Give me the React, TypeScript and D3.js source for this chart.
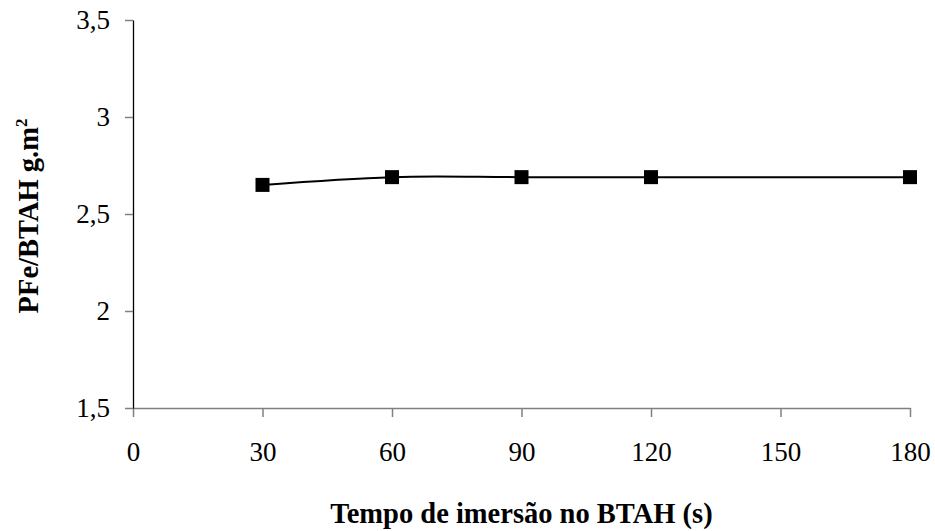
import React, { useEffect, useRef } from 'react'
import * as d3 from 'd3'

const tempos = [30, 60, 90, 120, 180]
const valores = [2.65, 2.69, 2.69, 2.69, 2.69]
const xTicks = [0, 30, 60, 90, 120, 150, 180]
const yTicks = [1.5, 2, 2.5, 3, 3.5]

const App: React.FC = () => {
  const svgRef = useRef<SVGSVGElement>(null)

  useEffect(() => {
    if (!svgRef.current) return
    const width = 935
    const height = 531
    const margin = { top: 20, right: 25, bottom: 123, left: 133 }
    const innerWidth = width - margin.left - margin.right
    const innerHeight = height - margin.top - margin.bottom

    const xScale = d3.scaleLinear().domain([0, 180]).range([0, innerWidth])
    const yScale = d3.scaleLinear().domain([1.5, 3.5]).range([innerHeight, 0])

    const svg = d3.select(svgRef.current)
    svg.selectAll('*').remove()
    svg.attr('width', width).attr('height', height)

    const g = svg.append('g').attr('transform', `translate(${margin.left},${margin.top})`)
    const font = '"Liberation Serif", "Times New Roman", serif'

    // X axis
    const xAxis = g
      .append('g')
      .attr('transform', `translate(0,${innerHeight})`)
      .call(
        d3
          .axisBottom(xScale)
          .tickValues(xTicks)
          .tickSize(9)
          .tickSizeOuter(0)
          .tickPadding(25)
          .tickFormat((d) => String(d)),
      )
    xAxis.selectAll('.domain').attr('stroke', '#808080').attr('stroke-width', 1.5)

    // Y axis
    const yAxis = g.append('g').call(
      d3
        .axisLeft(yScale)
        .tickValues(yTicks)
        .tickSize(8)
        .tickSizeOuter(0)
        .tickPadding(15)
        .tickFormat((d) => String(d).replace('.', ',')),
    )
    yAxis.selectAll('.domain').attr('stroke', '#000').attr('stroke-width', 1.3)

    svg.selectAll('.tick line').attr('stroke', '#808080').attr('stroke-width', 1.5)
    svg
      .selectAll('.tick text')
      .attr('fill', '#000')
      .style('font-family', font)
      .style('font-size', '27px')

    // smoothed line
    const pts = tempos.map((t, i) => [t, valores[i]] as [number, number])
    const line = d3
      .line<[number, number]>()
      .x((d) => xScale(d[0]))
      .y((d) => yScale(d[1]))
      .curve(d3.curveCatmullRom.alpha(0.5))

    g.append('path')
      .attr('d', line(pts))
      .attr('fill', 'none')
      .attr('stroke', '#000')
      .attr('stroke-width', 2)

    // markers
    const s = 14
    g.selectAll('rect.marker')
      .data(pts)
      .enter()
      .append('rect')
      .attr('class', 'marker')
      .attr('x', (d) => xScale(d[0]) - s / 2)
      .attr('y', (d) => yScale(d[1]) - s / 2)
      .attr('width', s)
      .attr('height', s)
      .attr('fill', '#000')

    // axis titles
    svg
      .append('text')
      .attr('x', margin.left + innerWidth / 2)
      .attr('y', 523)
      .attr('text-anchor', 'middle')
      .style('font-family', font)
      .style('font-size', '28.5px')
      .style('font-weight', 'bold')
      .text('Tempo de imersão no BTAH (s)')

    const yLabel = svg
      .append('text')
      .attr('transform', `translate(38,216) rotate(-90)`)
      .attr('text-anchor', 'middle')
      .style('font-family', font)
      .style('font-size', '28.5px')
      .style('font-weight', 'bold')
    yLabel.append('tspan').text('PFe/BTAH g.m')
    yLabel.append('tspan').attr('dy', -11).style('font-size', '17px').text('2')
  }, [])

  return <svg ref={svgRef} style={{ display: 'block', position: 'absolute', left: 0, top: 0, background: '#fff' }}></svg>
}

export default App
